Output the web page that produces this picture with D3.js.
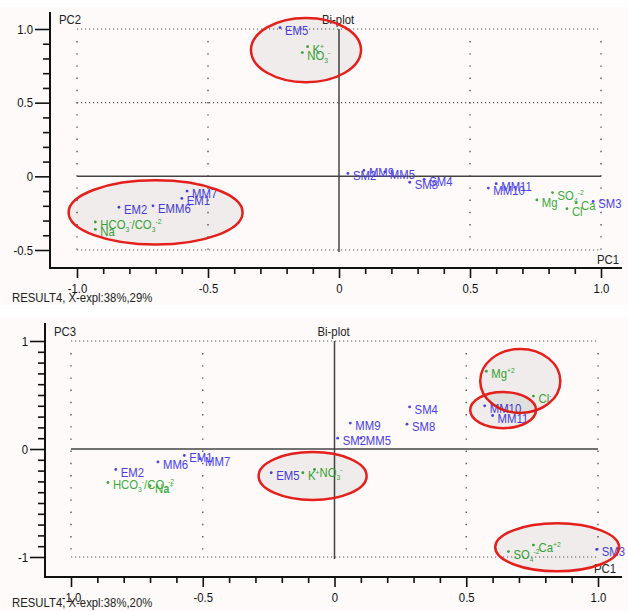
<!DOCTYPE html>
<html>
<head>
<meta charset="utf-8">
<script src="https://cdn.jsdelivr.net/npm/d3@7"></script>
<style>
  body { margin: 0; background: #fff; }
  text { font-family: "Liberation Sans", Arial, sans-serif; }
</style>
</head>
<body>
<div id="chart"></div>
<script>
/*------------------------------------------*/
/*            Data                          */
/*------------------------------------------*/

// samples (blue) then ions (green)
var pointKind = ["s","s","s","s","s","s","s","s","s","s","s","s","s",
                 "i","i","i","i","i","i","i","i"];

var topLabels = ["EM1","EM2","EM5","MM5","EMM6","MM7","MM9","MM10","MM11","SM2","SM3","SM4","SM8",
                 "HCO{_3}{^-}/CO{_3}{^-2}","Na","K{^+}","NO{_3}{^-}","Mg","SO{_4}{^-2}","Cl","Ca"];
var botLabels = ["EM1","EM2","EM5","MM5","MM6","MM7","MM9","MM10","MM11","SM2","SM3","SM4","SM8",
                 "HCO{_3}{^-}/CO{_3}{^-2}","Na{^+}","K{^+}","NO{_3}{^-}","Mg{^+2}","SO{_4}{^-2}","Cl{^-}","Ca{^+2}"];

// PC1 vs PC2
var topPC1 = [-0.60,-0.84,-0.225,0.175,-0.71,-0.58,0.095,0.57,0.60,0.034,0.97,0.325,0.27,
              -0.93,-0.93,-0.12,-0.14,0.755,0.815,0.87,0.905];
var topPC2 = [-0.15,-0.21,1.01,0.03,-0.20,-0.10,0.04,-0.08,-0.05,0.02,-0.17,-0.02,-0.04,
              -0.31,-0.36,0.88,0.84,-0.16,-0.11,-0.22,-0.18];

// PC1 vs PC3
var botPC1 = [-0.57,-0.83,-0.24,0.10,-0.67,-0.51,0.06,0.57,0.60,0.012,0.995,0.285,0.275,
              -0.86,-0.70,-0.12,-0.076,0.576,0.66,0.755,0.755];
var botPC3 = [-0.06,-0.19,-0.22,0.10,-0.12,-0.09,0.24,0.40,0.31,0.10,-0.93,0.39,0.23,
              -0.31,-0.34,-0.22,-0.19,0.72,-0.95,0.49,-0.89];

// highlighted groups: centre x, centre y, radius x, radius y (data units)
var topEllipses = [[-0.126, 0.857, 0.21, 0.218], [-0.70, -0.245, 0.332, 0.218]];
var botEllipses = [[0.705, 0.63, 0.152, 0.296], [0.64, 0.36, 0.125, 0.167],
                   [-0.083, -0.25, 0.205, 0.222], [0.845, -0.91, 0.235, 0.222]];

var xTicks = d3.range(-10, 11).map(function(i) { return i / 10; });
var topYTicks = d3.range(-5, 11).map(function(i) { return i / 10; });
var botYTicks = d3.range(-10, 11).map(function(i) { return i / 10; });

/*------------------------------------------*/
/*            Constants                     */
/*------------------------------------------*/

var W = 628, H = 611;
var blue = "#4b3fe6", green = "#3aaa3a", red = "#e3201c";
var narrow = 0.84;   // the original uses a condensed face

var svg = d3.select("#chart").append("svg")
    .attr("width", W)
    .attr("height", H);

function isMajor(d) { return Math.round(d * 10) % 5 === 0; }

function fmt1(d) { return d === 0 ? "0" : d.toFixed(1); }
function fmt0(d) { return d.toFixed(0); }

function addRich(sel, spec) {
  var re = /\{([_^])([^}]*)\}|([^{]+)/g, m, shift = 0;
  while ((m = re.exec(spec))) {
    if (m[3]) {
      sel.append("tspan").attr("dy", -shift).text(m[3]);
      shift = 0;
    } else {
      var s = m[1] === "_" ? 3 : -5;
      sel.append("tspan").attr("dy", s - shift).attr("font-size", 8).text(m[2]);
      shift = s;
    }
  }
}

/*------------------------------------------*/
/*            One bi-plot panel             */
/*------------------------------------------*/

function drawPanel(p) {
  var g = svg.append("g");
  var x = d3.scaleLinear().domain([-1, 1]).range(p.xRange),
      y = d3.scaleLinear().domain(p.yDomain).range(p.yRange);

  g.append("rect")
      .attr("x", 0).attr("y", p.bg[0])
      .attr("width", W).attr("height", p.bg[1])
      .attr("fill", "#fdfaf9");

  // dotted grid
  p.hGrid.forEach(function(v) {
    g.append("line")
        .attr("x1", x(-1)).attr("x2", x(1))
        .attr("y1", y(v)).attr("y2", y(v))
        .attr("stroke", "#555").attr("stroke-width", 1.2)
        .attr("stroke-dasharray", "1.2,2.8");
  });
  [-1, -0.5, 0.5, 1].forEach(function(v) {
    g.append("line")
        .attr("x1", x(v)).attr("x2", x(v))
        .attr("y1", y(p.yDomain[1]) + 12).attr("y2", y(p.yDomain[0]))
        .attr("stroke", "#555").attr("stroke-width", 1.4)
        .attr("stroke-dasharray", "1.4,10.8");
  });

  // zero lines
  g.append("line")
      .attr("x1", x(-1)).attr("x2", x(1))
      .attr("y1", y(0)).attr("y2", y(0))
      .attr("stroke", "#444").attr("stroke-width", 1.5);
  g.append("line")
      .attr("x1", x(0)).attr("x2", x(0))
      .attr("y1", y(p.yDomain[1])).attr("y2", y(p.yDomain[0]) + 2)
      .attr("stroke", "#444").attr("stroke-width", 1.5);

  // axes
  var yAxis = g.append("g")
      .attr("transform", "translate(" + p.axisX + ",0)")
      .call(d3.axisLeft(y).tickValues(p.yTicks).tickSize(7).tickPadding(3)
          .tickFormat(function(d) { return isMajor(d) && p.yMajor(d) ? p.yFmt(d) : ""; }));
  var xAxis = g.append("g")
      .attr("transform", "translate(0," + p.axisY + ")")
      .call(d3.axisBottom(x).tickValues(xTicks).tickSize(6).tickPadding(3)
          .tickFormat(function(d) { return isMajor(d) ? fmt1(d) : ""; }));

  [yAxis, xAxis].forEach(function(a) {
    a.select(".domain").remove();
    a.selectAll("line").attr("stroke", "#111").attr("stroke-width", 1.6);
    a.selectAll("text").attr("font-size", 13.5).attr("fill", "#111")
        .attr("font-family", "'Liberation Sans', Arial, sans-serif");
  });
  yAxis.selectAll(".tick line")
      .attr("x2", function(d) { return isMajor(d) && p.yMajor(d) ? -15 : -7; });
  yAxis.selectAll(".tick text").attr("x", -17);
  xAxis.selectAll(".tick line")
      .attr("y2", function(d) { return isMajor(d) ? 10 : 6; });
  xAxis.selectAll(".tick text").attr("dy", "1.15em");

  g.append("line")
      .attr("x1", p.axisX).attr("x2", p.axisX)
      .attr("y1", p.axisTop).attr("y2", p.axisY + 1)
      .attr("stroke", "#111").attr("stroke-width", 2);
  g.append("line")
      .attr("x1", p.axisX - 1).attr("x2", 622)
      .attr("y1", p.axisY).attr("y2", p.axisY)
      .attr("stroke", "#111").attr("stroke-width", 2);

  // titles
  g.append("text").attr("x", p.axisX + 9).attr("y", y(p.yDomain[1]) - 5)
      .attr("font-size", 13.5).attr("fill", "#222").text(p.yName);
  g.append("text").attr("x", x(0) - 17).attr("y", y(p.yDomain[1]) - 5)
      .attr("font-size", 13.5).attr("fill", "#222").text("Bi-plot");
  g.append("text").attr("x", x(1) - 4).attr("y", p.axisY - 4)
      .attr("font-size", 13.5).attr("fill", "#222").text("PC1");
  g.append("text").attr("x", 12).attr("y", p.axisY + p.capDy)
      .attr("font-size", 13.5).attr("fill", "#222").text(p.caption);

  // points
  var pts = p.px.map(function(v, i) {
    return {x: v, y: p.py[i], label: p.labels[i], kind: pointKind[i]};
  });

  var pg = g.selectAll(".pt")
      .data(pts)
      .enter().append("g")
      .attr("class", "pt")
      .attr("transform", function(d) { return "translate(" + x(d.x) + "," + y(d.y) + ")"; });

  pg.append("circle")
      .attr("r", 1.4)
      .attr("fill", function(d) { return d.kind === "s" ? blue : green; });

  pg.append("text")
      .attr("x", 5).attr("y", 7)
      .attr("font-size", 13.5)
      .attr("fill", function(d) { return d.kind === "s" ? blue : green; })
      .each(function(d) { addRich(d3.select(this), d.label); });

  // ellipses
  g.selectAll(".ell")
      .data(p.ellipses)
      .enter().append("ellipse")
      .attr("cx", function(d) { return x(d[0]); })
      .attr("cy", function(d) { return y(d[1]); })
      .attr("rx", function(d) { return x(d[2]) - x(0); })
      .attr("ry", function(d) { return y(0) - y(d[3]); })
      .attr("fill", "#000").attr("fill-opacity", 0.055)
      .attr("stroke", red).attr("stroke-width", 2.5);
}

drawPanel({
  bg: [7, 298],
  xRange: [77, 601], yDomain: [-0.5, 1], yRange: [250, 29],
  axisX: 50, axisY: 268, axisTop: 12, capDy: 34,
  yTicks: topYTicks, yMajor: function() { return true; }, yFmt: fmt1,
  hGrid: [1, 0.5, -0.5], yName: "PC2",
  caption: "RESULT4, X-expl:38%,29%",
  px: topPC1, py: topPC2, labels: topLabels, ellipses: topEllipses
});

drawPanel({
  bg: [318, 293],
  xRange: [71, 598], yDomain: [-1, 1], yRange: [557, 341],
  axisX: 45, axisY: 577, axisTop: 323, capDy: 30,
  yTicks: botYTicks, yMajor: function(d) { return Math.round(d * 10) % 10 === 0; }, yFmt: fmt0,
  hGrid: [1, -1], yName: "PC3",
  caption: "RESULT4, X-expl:38%,20%",
  px: botPC1, py: botPC3, labels: botLabels, ellipses: botEllipses
});

/*------------------------------------------*/
/*      Condense all text like the original */
/*------------------------------------------*/

svg.selectAll("text").each(function() {
  var len = this.getComputedTextLength();
  if (len > 0) {
    this.setAttribute("textLength", (len * narrow).toFixed(1));
    this.setAttribute("lengthAdjust", "spacingAndGlyphs");
  }
});
</script>
</body>
</html>
